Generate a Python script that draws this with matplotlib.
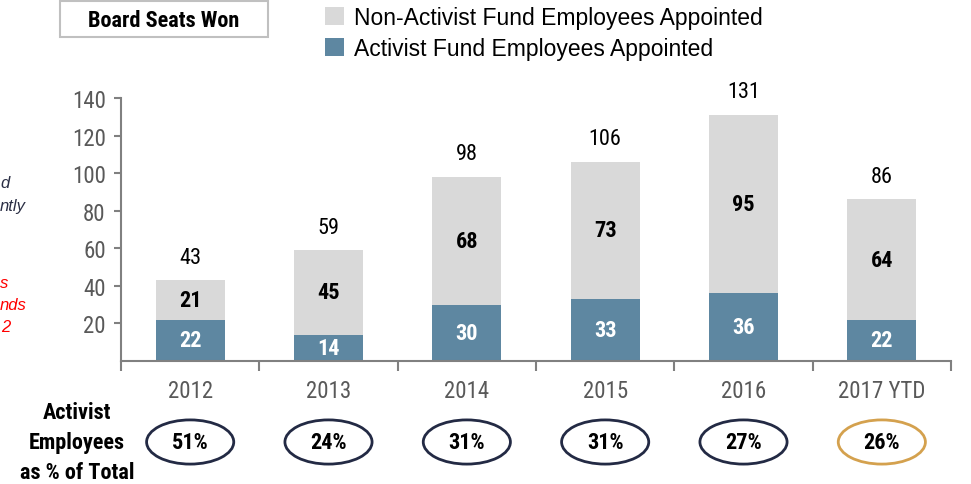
import matplotlib
matplotlib.use("Agg")
import matplotlib.pyplot as plt
import matplotlib.transforms as mtransforms
from matplotlib import font_manager
from matplotlib.patches import Ellipse, Rectangle

# data
years = ["2012", "2013", "2014", "2015", "2016", "2017 YTD"]
activist = [22, 14, 30, 33, 36, 22]
non_activist = [21, 45, 68, 73, 95, 64]
totals = [43, 59, 98, 106, 131, 86]
pct_labels = ["51%", "24%", "31%", "31%", "27%", "26%"]
yticks = [20, 40, 60, 80, 100, 120, 140]

# the original uses a narrow sans; take one that has a bold face
weights = {}
for f in font_manager.fontManager.ttflist:
    w = f.weight if isinstance(f.weight, int) else 400
    weights.setdefault(f.name, set()).add(w)
prefer = ["Liberation Sans Narrow", "Arial Narrow", "Roboto Condensed",
          "Open Sans Condensed", "Noto Sans Condensed"]
narrow = [n for n in prefer if n in weights and max(weights[n]) >= 600
          and min(weights[n]) <= 500]
NARROW = narrow[:1] + ["Liberation Sans", "DejaVu Sans"]
REG = ["Liberation Sans", "DejaVu Sans"]
plt.rcParams["font.family"] = NARROW
k = 1.0 if narrow else 0.92   # shrink wide fallback a little

blue = "#5e87a1"
grey = "#d9d9d9"
navy = "#232a44"
gold = "#d4a14e"
tickc = "#595959"

fig = plt.figure(figsize=(9.71, 4.85), dpi=100)
ax = fig.add_axes([121 / 971, 1 - 362 / 485, 830 / 971, 263 / 485])

x = list(range(len(years)))
ax.bar(x, activist, width=0.5, color=blue, label="Activist Fund Employees Appointed")
ax.bar(x, non_activist, width=0.5, bottom=activist, color=grey,
       label="Non-Activist Fund Employees Appointed")

for i in x:
    ax.text(i, activist[i] / 2, str(activist[i]), ha="center", va="center",
            color="white", fontsize=16 * k, fontweight="bold")
    ax.text(i, activist[i] + non_activist[i] / 2, str(non_activist[i]),
            ha="center", va="center", color="black", fontsize=16 * k,
            fontweight="bold")
    ax.annotate(str(totals[i]), (i, totals[i]), xytext=(0, 16.5),
                textcoords="offset points", ha="center", va="center",
                fontsize=16 * k, color="black")

ax.set_xlim(-0.5, len(years) - 0.5)
ax.set_ylim(0, 140)
ax.set_yticks(yticks)
ax.tick_params(axis="y", colors="#808080", labelcolor=tickc, labelsize=16.5 * k,
               length=5, width=1.5, pad=6)

# category boundary ticks + labels as minor ticks
ax.set_xticks([i - 0.5 for i in range(len(years) + 1)])
ax.set_xticklabels([])
ax.set_xticks(x, minor=True)
ax.set_xticklabels(years, minor=True)
ax.tick_params(axis="x", which="major", colors="#808080", length=7, width=1.5)
ax.tick_params(axis="x", which="minor", length=0, labelcolor=tickc,
               labelsize=16.5 * k, pad=13)

for s in ["top", "right"]:
    ax.spines[s].set_visible(False)
for s in ["left", "bottom"]:
    ax.spines[s].set_color("#808080")
    ax.spines[s].set_linewidth(1.5)

# percentage ellipses below axis
trans = mtransforms.blended_transform_factory(ax.transData, ax.transAxes)
ey = (362 - 443) / 263
for i in x:
    ec = gold if i == len(years) - 1 else navy
    ax.add_patch(Ellipse((i, ey), 0.63, 0.168, transform=trans, fill=False,
                         edgecolor=ec, linewidth=2, clip_on=False))
    ax.text(i, ey, pct_labels[i], transform=trans, ha="center", va="center",
            fontsize=16 * k, fontweight="bold", color="black")

fig.text(77 / 971, 1 - 443 / 485, "Activist\nEmployees\nas % of Total",
         ha="center", va="center", fontsize=16 * k, fontweight="bold",
         linespacing=1.45)

# title box
fig.patches.append(Rectangle((60 / 971, 1 - 38 / 485), 208 / 971, 36 / 485,
                             transform=fig.transFigure, facecolor="white",
                             edgecolor="#c0c0c0", linewidth=1.5))
fig.text(164 / 971, 1 - 21 / 485, "Board Seats Won", ha="center", va="center",
         fontsize=16 * k if narrow else 14.5, fontweight="bold")

# legend
h, l = ax.get_legend_handles_labels()
fig.legend(h[::-1], l[::-1], loc="upper left",
           bbox_to_anchor=(325 / 971, 1 - 7 / 485), frameon=False,
           prop={"family": REG, "size": 16.5}, handlelength=0.85,
           handleheight=0.85, handletextpad=0.42, labelspacing=0.36,
           borderpad=0, borderaxespad=0)

# cut-off side notes at the left edge
notes = [("d", 0, 183, "#2b2f45"), ("ntly", 0, 207, "#2b2f45"),
         ("s", 0, 283, "#ff0000"), ("nds", 0, 305, "#ff0000"),
         ("2", 1, 328, "#ff0000")]
for txt, xl, yc, c in notes:
    fig.text(xl / 971, 1 - yc / 485, txt, ha="left", va="center",
             fontsize=12, style="italic", color=c, family=REG)

fig.savefig("out.png", dpi=100)
